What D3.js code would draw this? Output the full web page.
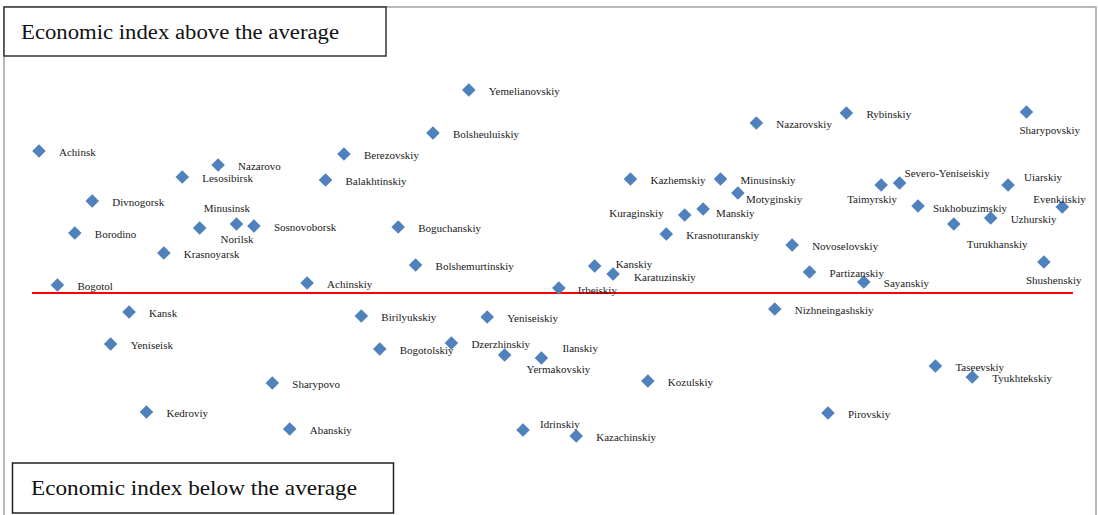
<!DOCTYPE html>
<html>
<head>
<meta charset="utf-8">
<script src="https://cdn.jsdelivr.net/npm/d3@7"></script>
<style>
  body { margin: 0; background: #fff; }
</style>
</head>
<body>
<div class="chart"></div>
<script>
// Districts and cities of the region, placed by economic index
// y = deviation of the index from the regional average, x = position along the horizontal

var districts = [
  "Achinsk", "Nazarovo", "Lesosibirsk", "Divnogorsk", "Minusinsk", "Norilsk", "Sosnovoborsk",
  "Borodino", "Krasnoyarsk", "Bogotol", "Achinskiy", "Yemelianovskiy", "Bolsheuluiskiy",
  "Berezovskiy", "Balakhtinskiy", "Boguchanskiy", "Bolshemurtinskiy", "Irbeiskiy", "Kanskiy",
  "Karatuzinskiy", "Nazarovskiy", "Rybinskiy", "Kazhemskiy", "Minusinskiy", "Motyginskiy",
  "Kuraginskiy", "Manskiy", "Krasnoturanskiy", "Novoselovskiy", "Partizanskiy", "Taimyrskiy",
  "Sharypovskiy", "Severo-Yeniseiskiy", "Uiarskiy", "Evenkiiskiy", "Sukhobuzimskiy", "Uzhurskiy",
  "Turukhanskiy", "Shushenskiy", "Sayanskiy",
  "Kansk", "Yeniseisk", "Sharypovo", "Kedroviy", "Abanskiy", "Birilyukskiy", "Bogotolskiy",
  "Dzerzhinskiy", "Yermakovskiy", "Ilanskiy", "Yeniseiskiy", "Kozulskiy", "Idrinskiy",
  "Kazachinskiy", "Nizhneingashskiy", "Taseevskiy", "Tyukhtekskiy", "Pirovskiy"
];

var xValues = [
  0.0, 17.5, 14.0, 5.2, 15.7, 19.3, 21.0,
  3.5, 12.2, 1.8, 26.2, 42.0, 38.5,
  29.8, 28.0, 35.1, 36.8, 50.8, 54.3,
  56.1, 70.1, 78.9, 57.8, 66.6, 68.3,
  63.1, 64.9, 61.3, 73.6, 75.3, 82.3,
  96.5, 84.1, 94.7, 100.0, 85.9, 93.0,
  89.4, 98.2, 80.6,
  8.8, 7.0, 22.8, 10.5, 24.5, 31.5, 33.3,
  40.3, 45.5, 49.1, 43.8, 59.5, 47.3,
  52.5, 71.9, 87.6, 91.2, 77.1
];

var indexValues = [
  1.42, 1.28, 1.16, 0.92, 0.65, 0.69, 0.67,
  0.60, 0.40, 0.08, 0.10, 2.03, 1.60,
  1.39, 1.13, 0.66, 0.28, 0.05, 0.27,
  0.19, 1.70, 1.80, 1.14, 1.14, 1.00,
  0.78, 0.84, 0.59, 0.48, 0.21, 1.08,
  1.81, 1.10, 1.08, 0.86, 0.87, 0.75,
  0.69, 0.31, 0.11,
  -0.19, -0.51, -0.90, -1.19, -1.36, -0.23, -0.56,
  -0.50, -0.62, -0.65, -0.24, -0.88, -1.37,
  -1.43, -0.16, -0.73, -0.84, -1.20
];

var averageIndex = 0;

var topTitle = "Economic index above the average";
var bottomTitle = "Economic index below the average";

// label placement where the label is not simply to the right of the marker
var labelShift = {
  "Minusinsk": [4, -20, "start"],
  "Norilsk": [-16, 15, "start"],
  "Motyginskiy": [8, 6, "start"],
  "Kuraginskiy": [-21, -2, "end"],
  "Manskiy": [13, 4, "start"],
  "Taimyrskiy": [-34, 14, "start"],
  "Sharypovskiy": [-7, 18, "start"],
  "Severo-Yeniseiskiy": [5, -10, "start"],
  "Uiarskiy": [16, -8, "start"],
  "Evenkiiskiy": [-29, -8, "start"],
  "Sukhobuzimskiy": [15, 2, "start"],
  "Turukhanskiy": [13, 20, "start"],
  "Shushenskiy": [-18, 18, "start"],
  "Irbeiskiy": [19, 2, "start"],
  "Kanskiy": [21, -2, "start"],
  "Karatuzinskiy": [21, 3, "start"],
  "Yermakovskiy": [22, 14, "start"],
  "Ilanskiy": [21, -10, "start"],
  "Idrinskiy": [17, -6, "start"]
};

var serif = "'Liberation Serif', 'Times New Roman', Times, serif";

var svgWidth = 1099;
var svgHeight = 515;

var svg = d3.select(".chart")
  .append("svg")
  .attr("width", svgWidth)
  .attr("height", svgHeight)
  .style("display", "block");

svg.append("rect")
  .attr("width", svgWidth)
  .attr("height", svgHeight)
  .attr("fill", "#fff");

// scales
var xScale = d3.scaleLinear().domain([0, 100]).range([39, 1062.3]);
var yScale = d3.scaleLinear().domain([-2, 2]).range([493, 93]);

// outer frame (open at the bottom)
svg.append("path")
  .attr("d", "M4,515 L4,7 L1096,7 L1096,515")
  .attr("fill", "none")
  .attr("stroke", "#a3a3a3")
  .attr("stroke-width", 1.5);

// average line
svg.append("line")
  .attr("x1", 32)
  .attr("x2", 1073)
  .attr("y1", yScale(averageIndex))
  .attr("y2", yScale(averageIndex))
  .attr("stroke", "#ff0000")
  .attr("stroke-width", 2);

var points = districts.map(function(name, i) {
  return { name: name, x: xValues[i], y: indexValues[i] };
});

var diamond = d3.symbol().type(d3.symbolSquare).size(92);

var g = svg.append("g");

g.selectAll("path.pt")
  .data(points)
  .enter().append("path")
    .attr("class", "pt")
    .attr("d", diamond)
    .attr("transform", function(d) {
      return "translate(" + xScale(d.x) + "," + yScale(d.y) + ") rotate(45)";
    })
    .attr("fill", "#4f81bd");

g.selectAll("text.lbl")
  .data(points)
  .enter().append("text")
    .attr("class", "lbl")
    .attr("font-family", serif)
    .attr("font-size", 11)
    .attr("fill", "#1a1a1a")
    .attr("x", function(d) {
      var s = labelShift[d.name];
      return xScale(d.x) + (s ? s[0] : 20);
    })
    .attr("y", function(d) {
      var s = labelShift[d.name];
      return yScale(d.y) + (s ? s[1] : 1);
    })
    .attr("dy", "0.35em")
    .attr("text-anchor", function(d) {
      var s = labelShift[d.name];
      return s ? s[2] : "start";
    })
    .text(function(d) { return d.name; });

// title boxes
svg.append("rect")
  .attr("x", 4).attr("y", 7)
  .attr("width", 382).attr("height", 49)
  .attr("fill", "#fff")
  .attr("stroke", "#333")
  .attr("stroke-width", 1.5);

svg.append("text")
  .attr("font-family", serif)
  .attr("fill", "#111")
  .attr("x", 21).attr("y", 39)
  .attr("font-size", 20)
  .attr("textLength", 318)
  .attr("lengthAdjust", "spacingAndGlyphs")
  .text(topTitle);

svg.append("rect")
  .attr("x", 12.5).attr("y", 463)
  .attr("width", 381).attr("height", 50)
  .attr("fill", "#fff")
  .attr("stroke", "#222")
  .attr("stroke-width", 1.5);

svg.append("text")
  .attr("font-family", serif)
  .attr("fill", "#111")
  .attr("x", 31).attr("y", 495)
  .attr("font-size", 21)
  .attr("textLength", 326)
  .attr("lengthAdjust", "spacingAndGlyphs")
  .text(bottomTitle);
</script>
</body>
</html>
